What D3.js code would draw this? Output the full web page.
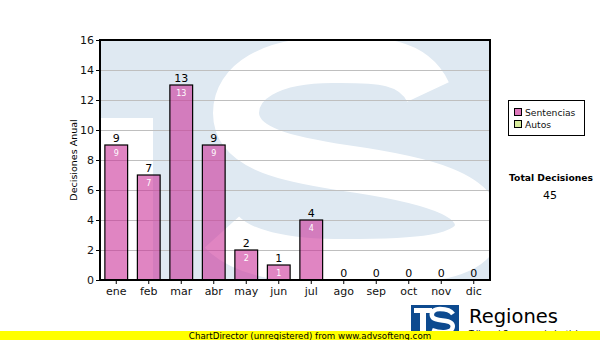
<!DOCTYPE html>
<html><head><meta charset="utf-8">
<script src="https://cdn.jsdelivr.net/npm/d3@7/dist/d3.min.js"></script>
<style>body{margin:0;background:#fff}svg{display:block}text{font-family:"DejaVu Sans",Verdana,sans-serif}</style>
</head><body>
<script>
const months = ["ene","feb","mar","abr","may","jun","jul","ago","sep","oct","nov","dic"];
const sentencias = [9,7,13,9,2,1,4,0,0,0,0,0];
const autos = [0,0,0,0,0,0,0,0,0,0,0,0];
const yTicks = [0,2,4,6,8,10,12,14,16];
const legendLabels = ["Sentencias","Autos"];
const totalLabel = "Total Decisiones";
const total = 45;

const W=600,H=340;
const svg=d3.select("body").append("svg").attr("width",W).attr("height",H);
const L=100,R=490,T=40,B=280;
const x=d3.scaleBand().domain(months).range([L,R]).paddingInner(0.3).paddingOuter(0.15);
const y=d3.scaleLinear().domain([0,16]).range([B,T]);

// watermark
const defs=svg.append("defs");
defs.append("clipPath").attr("id","pc").append("rect").attr("x",L).attr("y",T).attr("width",R-L).attr("height",B-T);
const wm=svg.append("g").attr("clip-path","url(#pc)");
wm.append("rect").attr("x",L).attr("y",T).attr("width",R-L).attr("height",B-T).attr("fill","#dfe9f2");
wm.append("rect").attr("x",L).attr("y",118).attr("width",53).attr("height",B-118).attr("fill","#fff");
wm.append("path").attr("d","M 428 92 C 412 58, 372 60, 332 60 C 270 60, 236 82, 236 113 C 236 150, 292 160, 345 168 C 430 180, 478 195, 478 225 C 478 262, 405 262, 345 262 C 282 262, 240 252, 222 232")
  .attr("fill","none").attr("stroke","#fff").attr("stroke-width",46);

// grid
svg.append("g").selectAll("line").data(yTicks.filter(d=>d>0&&d<16)).join("line")
  .attr("x1",L).attr("x2",R).attr("y1",d=>y(d)).attr("y2",d=>y(d)).attr("stroke","#bfbfbf").attr("stroke-width",1).attr("shape-rendering","crispEdges");

// bars
svg.append("g").selectAll("rect").data(sentencias.map((v,i)=>({m:months[i],v}))).join("rect")
  .filter(d=>d.v>0)
  .attr("x",d=>x(d.m)).attr("y",d=>y(d.v)).attr("width",x.bandwidth()).attr("height",d=>y(0)-y(d.v))
  .attr("fill","#cc3399").attr("fill-opacity",0.6).attr("stroke","#000").attr("stroke-width",1.2);

// labels
const lg=svg.append("g");
sentencias.forEach((v,i)=>{
  const cx=x(months[i])+x.bandwidth()/2;
  lg.append("text").attr("x",cx).attr("y",y(v)-3).attr("text-anchor","middle").attr("font-size",11)
    .attr("fill","#000").text(v);
  if(v>0) lg.append("text").attr("x",cx).attr("y",y(v)+11).attr("text-anchor","middle").attr("font-size",8).attr("fill","#fff").text(v);
});

// frame
svg.append("rect").attr("x",L).attr("y",T).attr("width",R-L).attr("height",B-T).attr("fill","none").attr("stroke","#000").attr("stroke-width",1.3).attr("shape-rendering","crispEdges");

// axes
const ya=svg.append("g").attr("transform",`translate(${L},0)`).call(d3.axisLeft(y).tickValues(yTicks).tickSize(4).tickPadding(2));
const xa=svg.append("g").attr("transform",`translate(0,${B})`).call(d3.axisBottom(x).tickSize(4).tickPadding(3));
[ya,xa].forEach(a=>{a.select(".domain").remove();a.selectAll("line").attr("stroke","#000");a.selectAll("text").attr("font-size",11).attr("fill","#111").attr("font-family","DejaVu Sans, sans-serif");});

svg.append("text").attr("transform","translate(77,160) rotate(-90)").attr("text-anchor","middle").attr("font-size",9.5).text("Decisiones Anual");

// legend
svg.append("rect").attr("x",508.5).attr("y",100.5).attr("width",76).attr("height",35).attr("fill","#fff").attr("stroke","#000");
const lcol=["#dd77bb","#d8ec9c"];
legendLabels.forEach((t,i)=>{
  svg.append("rect").attr("x",514.5).attr("y",108.5+i*12).attr("width",7).attr("height",7).attr("fill",lcol[i]).attr("stroke","#000");
  svg.append("text").attr("x",525).attr("y",116+i*12).attr("font-size",9.2).attr("fill","#111").text(t);
});
svg.append("text").attr("x",551).attr("y",181).attr("text-anchor","middle").attr("font-size",9.2).attr("font-weight","bold").text(totalLabel);
svg.append("text").attr("x",550).attr("y",199).attr("text-anchor","middle").attr("font-size",11).text(total);

// logo (drawn shapes)
const lo=svg.append("g");
lo.append("rect").attr("x",411).attr("y",305).attr("width",48).attr("height",28).attr("fill","#0d4a8f");
lo.append("rect").attr("x",414).attr("y",308).attr("width",18).attr("height",5).attr("fill","#fff");
lo.append("rect").attr("x",420).attr("y",308).attr("width",6).attr("height",25).attr("fill","#fff");
lo.append("path").attr("d","M 453 314 C 450 309, 444 309, 440 309 C 434 309, 431 312, 432 316 C 433 320, 440 320, 446 321 C 452 322, 454 325, 452 329 C 449 333, 440 333, 432 330")
  .attr("fill","none").attr("stroke","#fff").attr("stroke-width",4.5);
lo.append("text").attr("x",469).attr("y",323).attr("font-size",19.5).attr("font-family","Liberation Sans, Arial, sans-serif").attr("fill","#000").text("Regiones");
lo.append("text").attr("x",469).attr("y",337).attr("font-size",8).attr("fill","#000").text("Tribunal Supremo de Justicia");

// footer
svg.append("rect").attr("x",0).attr("y",331).attr("width",W).attr("height",9).attr("fill","#ffff00");
svg.append("text").attr("x",310).attr("y",339).attr("text-anchor","middle").attr("font-size",8.7).attr("font-family","Liberation Sans, Arial, sans-serif").attr("fill","#000").text("ChartDirector (unregistered) from www.advsofteng.com");
</script>
</body></html>
